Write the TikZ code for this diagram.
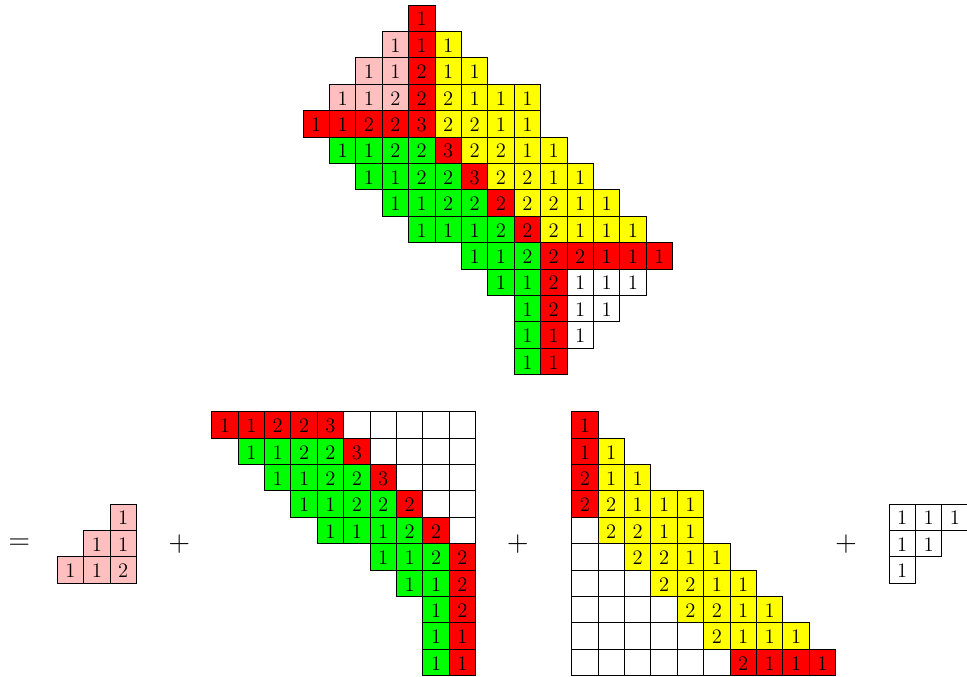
\documentclass[tikz,border=0pt]{standalone}
\usepackage{xcolor}
\usepackage{tikz}
\definecolor{tabred}{HTML}{FF0000}
\definecolor{tabgreen}{HTML}{00FF00}
\definecolor{tabyellow}{HTML}{FFFF00}
\definecolor{tabpink}{HTML}{FFBFBF}
\tikzset{
  cell/.style={draw=black, line width=0.5pt, minimum size=0.54cm, inner sep=0pt,
               font=\fontsize{11.5}{13}\selectfont, text height=9pt, text depth=0pt},
  opsign/.style={font=\fontsize{19}{22}\selectfont}
}

\begin{document}
\begin{tikzpicture}[x=0.54cm,y=0.54cm]
  \useasboundingbox (0,0) rectangle (36.63,-25.64);
  % top tableau
  \begin{scope}[shift={(11.977,-0.689)}]
    \foreach \c/\r/\v in {4/0/1,4/1/1,4/2/2,4/3/2,0/4/1,1/4/1,2/4/2,3/4/2,4/4/3,5/5/3,6/6/3,7/7/2,8/8/2,
                          9/9/2,10/9/2,11/9/1,12/9/1,13/9/1,9/10/2,9/11/2,9/12/1,9/13/1} {
      \node[cell,fill=tabred] (top-\c-\r) at (\c,-\r) {$\v$};
    }
    \foreach \c/\r/\v in {3/1/1,2/2/1,3/2/1,1/3/1,2/3/1,3/3/2} {
      \node[cell,fill=tabpink] (top-\c-\r) at (\c,-\r) {$\v$};
    }
    \foreach \c/\r/\v in {5/1/1,5/2/1,6/2/1,5/3/2,6/3/1,7/3/1,8/3/1,5/4/2,6/4/2,7/4/1,8/4/1,
                          6/5/2,7/5/2,8/5/1,9/5/1,7/6/2,8/6/2,9/6/1,10/6/1,8/7/2,9/7/2,10/7/1,11/7/1,
                          9/8/2,10/8/1,11/8/1,12/8/1} {
      \node[cell,fill=tabyellow] (top-\c-\r) at (\c,-\r) {$\v$};
    }
    \foreach \c/\r/\v in {1/5/1,2/5/1,3/5/2,4/5/2,2/6/1,3/6/1,4/6/2,5/6/2,3/7/1,4/7/1,5/7/2,6/7/2,
                          4/8/1,5/8/1,6/8/1,7/8/2,6/9/1,7/9/1,8/9/2,7/10/1,8/10/1,8/11/1,8/12/1,8/13/1} {
      \node[cell,fill=tabgreen] (top-\c-\r) at (\c,-\r) {$\v$};
    }
    \foreach \c/\r/\v in {10/10/1,11/10/1,12/10/1,10/11/1,11/11/1,10/12/1} {
      \node[cell,fill=white] (top-\c-\r) at (\c,-\r) {$\v$};
    }
  \end{scope}
  % equals sign and pink staircase
  \node[opsign] (eq) at (0.727,-20.61) {$=$};
  \begin{scope}[shift={(2.67,-19.59)}]
    \foreach \c/\r/\v in {2/0/1,1/1/1,2/1/1,0/2/1,1/2/1,2/2/2} {
      \node[cell,fill=tabpink] (pk-\c-\r) at (\c,-\r) {$\v$};
    }
  \end{scope}
  \node[opsign] (plusa) at (6.79,-20.6) {$+$};
  % red and green block
  \begin{scope}[shift={(8.519,-16.095)}]
    \foreach \r in {0,...,4} {
      \pgfmathtruncatemacro\cs{\r+5}
      \foreach \c in {\cs,...,9} {
        \node[cell,fill=white] (rg-\c-\r) at (\c,-\r) {};
      }
    }
    \foreach \c/\r/\v in {0/0/1,1/0/1,2/0/2,3/0/2,4/0/3,5/1/3,6/2/3,7/3/2,8/4/2,
                          9/5/2,9/6/2,9/7/2,9/8/1,9/9/1} {
      \node[cell,fill=tabred] (rg-\c-\r) at (\c,-\r) {$\v$};
    }
    \foreach \c/\r/\v in {1/1/1,2/1/1,3/1/2,4/1/2,2/2/1,3/2/1,4/2/2,5/2/2,3/3/1,4/3/1,5/3/2,6/3/2,
                          4/4/1,5/4/1,6/4/1,7/4/2,6/5/1,7/5/1,8/5/2,7/6/1,8/6/1,8/7/1,8/8/1,8/9/1} {
      \node[cell,fill=tabgreen] (rg-\c-\r) at (\c,-\r) {$\v$};
    }
  \end{scope}
  \node[opsign] (plusb) at (19.61,-20.61) {$+$};
  % red and yellow block
  \begin{scope}[shift={(22.155,-16.095)}]
    \foreach \r in {4,...,9} {
      \pgfmathtruncatemacro\ce{\r-4}
      \foreach \c in {0,...,\ce} {
        \node[cell,fill=white] (ry-\c-\r) at (\c,-\r) {};
      }
    }
    \foreach \c/\r/\v in {0/0/1,0/1/1,0/2/2,0/3/2,6/9/2,7/9/1,8/9/1,9/9/1} {
      \node[cell,fill=tabred] (ry-\c-\r) at (\c,-\r) {$\v$};
    }
    \foreach \c/\r/\v in {1/1/1,1/2/1,2/2/1,1/3/2,2/3/1,3/3/1,4/3/1,1/4/2,2/4/2,3/4/1,4/4/1,
                          2/5/2,3/5/2,4/5/1,5/5/1,3/6/2,4/6/2,5/6/1,6/6/1,4/7/2,5/7/2,6/7/1,7/7/1,
                          5/8/2,6/8/1,7/8/1,8/8/1} {
      \node[cell,fill=tabyellow] (ry-\c-\r) at (\c,-\r) {$\v$};
    }
  \end{scope}
  \node[opsign] (plusc) at (32.05,-20.6) {$+$};
  % white staircase
  \begin{scope}[shift={(34.174,-19.59)}]
    \foreach \c/\r/\v in {0/0/1,1/0/1,2/0/1,0/1/1,1/1/1,0/2/1} {
      \node[cell,fill=white] (wh-\c-\r) at (\c,-\r) {$\v$};
    }
  \end{scope}
\end{tikzpicture}
\end{document}
